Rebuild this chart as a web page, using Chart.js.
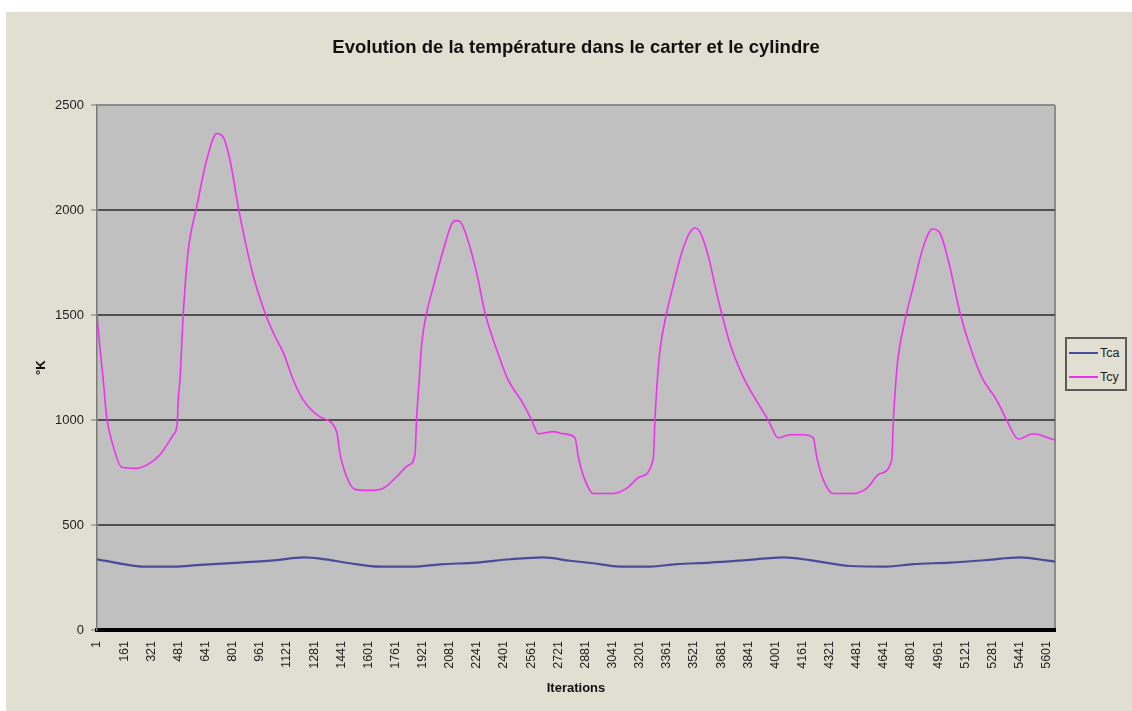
<!DOCTYPE html>
<html lang="fr">
<head>
<meta charset="UTF-8">
<title>Evolution de la température dans le carter et le cylindre</title>
<script src="https://cdn.jsdelivr.net/npm/chart.js"></script>
<style>
    body {
        margin: 0;
        background: #ffffff;
        font-family: "Liberation Sans", Arial, sans-serif;
    }
    #panel {
        position: absolute;
        left: 6px;
        top: 12px;
        width: 1126px;
        height: 699px;
        background: #e1dfd1;
    }
    #chart {
        position: absolute;
        left: 0;
        top: 0;
    }
    #legend {
        position: absolute;
        left: 1065px;
        top: 337px;
        width: 58px;
        padding-top: 2px;
        border: 2px solid #5a5a5a;
        background: #e1dfd1;
    }
    .item {
        height: 24px;
        display: flex;
        align-items: center;
        font-size: 12.5px;
        color: #222;
    }
    .item span.line {
        display: inline-block;
        width: 29px;
        height: 2px;
        margin: 0 2px 0 2px;
    }
</style>
</head>
<body>
<div id="panel"></div>
<canvas id="chart" width="1132" height="711"></canvas>
<div id="legend"></div>

<script>
// iteration / temperature samples (K)
const tcyIter = [1, 20, 38, 58, 97, 147, 235, 313, 372, 451, 474, 480, 490, 510, 539, 589, 648, 707, 744, 785,
    834, 874, 923, 992, 1041, 1100, 1159, 1218, 1316, 1414, 1434, 1473, 1522, 1611, 1689, 1768, 1837, 1876, 1886, 1901,
    1916, 1945, 1984, 2043, 2093, 2118, 2142, 2181, 2240, 2289, 2358, 2426, 2505, 2564, 2603, 2692, 2751, 2820, 2839, 2878,
    2927, 3045, 3124, 3203, 3281, 3291, 3305, 3321, 3360, 3397, 3448, 3498, 3527, 3557, 3606, 3655, 3684, 3733, 3812, 3891,
    3959, 4018, 4087, 4166, 4225, 4245, 4284, 4342, 4460, 4539, 4618, 4687, 4697, 4712, 4725, 4775, 4814, 4873, 4928, 4972,
    5021, 5090, 5149, 5218, 5306, 5365, 5434, 5522, 5630, 5650];
const tcyVals = [1500, 1330, 1190, 1015, 875, 775, 770, 795, 835, 930, 985, 1095, 1190, 1510, 1810, 2015, 2240, 2365, 2350, 2240,
    2015, 1855, 1685, 1510, 1415, 1320, 1190, 1095, 1015, 945, 840, 730, 670, 665, 675, 730, 785, 835, 1015, 1190,
    1365, 1510, 1635, 1810, 1935, 1950, 1945, 1875, 1700, 1510, 1335, 1190, 1090, 1000, 935, 945, 935, 915, 825, 715,
    650, 650, 675, 730, 815, 1000, 1190, 1335, 1510, 1635, 1795, 1895, 1915, 1895, 1780, 1605, 1510, 1365, 1205, 1090,
    1000, 915, 930, 930, 915, 825, 715, 650, 650, 675, 745, 810, 1000, 1190, 1300, 1510, 1635, 1825, 1910, 1890,
    1760, 1510, 1350, 1205, 1095, 1000, 910, 935, 910, 905];

const tcaIter = [1, 156, 274, 451, 608, 844, 1061, 1218, 1336, 1493, 1670, 1866, 2023, 2240, 2436, 2633, 2790,
    2927, 3085, 3262, 3419, 3615, 3832, 4048, 4205, 4441, 4657, 4814, 5030, 5246, 5443, 5620, 5650];
const tcaVals = [337, 314, 302, 302, 310, 321, 333, 346, 338, 318, 302, 302, 313, 321, 337, 346, 330,
    318, 302, 302, 314, 321, 333, 346, 333, 305, 302, 314, 321, 333, 346, 329, 326];

const xTickLabels = [1, 161, 321, 481, 641, 801, 961, 1121, 1281, 1441, 1601, 1761, 1921, 2081, 2241, 2401, 2561, 2721,
    2881, 3041, 3201, 3361, 3521, 3681, 3841, 4001, 4161, 4321, 4481, 4641, 4801, 4961, 5121, 5281, 5441, 5601];

const FONT = '"Liberation Sans", Arial, sans-serif';

// grey plot background and right frame line
const plotFrame = {
    id: 'plotFrame',
    beforeDraw(chart) {
        const { ctx, chartArea: a } = chart;
        ctx.save();
        ctx.fillStyle = '#c0c0c0';
        ctx.fillRect(a.left, a.top, a.width, a.height);
        ctx.strokeStyle = '#8c8c8c';
        ctx.lineWidth = 2;
        ctx.beginPath();
        ctx.moveTo(a.right, a.top);
        ctx.lineTo(a.right, a.bottom);
        ctx.stroke();
        ctx.restore();
    }
};

const chart = new Chart(document.getElementById('chart'), {
    type: 'line',
    data: {
        datasets: [
            {
                label: 'Tca',
                data: tcaIter.map((x, i) => ({ x: x, y: tcaVals[i] })),
                borderColor: '#4b4b9b',
                borderWidth: 2.2,
                pointRadius: 0,
                cubicInterpolationMode: 'monotone'
            },
            {
                label: 'Tcy',
                data: tcyIter.map((x, i) => ({ x: x, y: tcyVals[i] })),
                borderColor: '#f030f0',
                borderWidth: 1.6,
                pointRadius: 0,
                cubicInterpolationMode: 'monotone'
            }
        ]
    },
    options: {
        responsive: false,
        animation: false,
        layout: { padding: { left: 0, right: 77, top: 0, bottom: 0 } },
        plugins: {
            legend: { display: false },
            tooltip: { enabled: false },
            title: {
                display: true,
                text: 'Evolution de la température dans le carter et le cylindre',
                fullSize: false,
                color: '#111',
                font: { family: FONT, size: 18.5, weight: 'bold' },
                padding: { top: 37, bottom: 46 }
            }
        },
        scales: {
            x: {
                type: 'linear',
                min: 1,
                max: 5650,
                afterBuildTicks: s => { s.ticks = xTickLabels.map(v => ({ value: v })); },
                afterFit: s => { s.height = 81; },
                grid: { display: false },
                border: { display: true, color: '#000', width: 4 },
                ticks: {
                    autoSkip: false,
                    minRotation: 90,
                    maxRotation: 90,
                    padding: 3,
                    color: '#222',
                    font: { family: FONT, size: 12.5 },
                    callback: v => String(v)
                },
                title: {
                    display: true,
                    text: 'Iterations',
                    color: '#111',
                    font: { family: FONT, size: 13, weight: 'bold' },
                    padding: { top: 0, bottom: 15 }
                }
            },
            y: {
                min: 0,
                max: 2500,
                afterFit: s => { s.width = 97; },
                ticks: {
                    stepSize: 500,
                    padding: 7,
                    color: '#222',
                    font: { family: FONT, size: 13 },
                    callback: v => String(v)
                },
                grid: {
                    color: c => c.tick.value === 0 ? 'rgba(0,0,0,0)' : (c.tick.value === 2500 ? '#8c8c8c' : '#505050'),
                    lineWidth: 2,
                    tickLength: 6,
                    tickColor: '#707070',
                    tickWidth: 1
                },
                border: { color: '#7a7a7a', width: 1.5 },
                title: {
                    display: true,
                    text: '°K',
                    color: '#111',
                    font: { family: FONT, size: 13, weight: 'bold' },
                    padding: { top: 34, bottom: 0 }
                }
            }
        }
    },
    plugins: [plotFrame]
});

// legend box built from the datasets
const legend = document.getElementById('legend');
chart.data.datasets.forEach(ds => {
    const row = document.createElement('div');
    row.className = 'item';
    const line = document.createElement('span');
    line.className = 'line';
    line.style.background = ds.borderColor;
    row.appendChild(line);
    row.appendChild(document.createTextNode(ds.label));
    legend.appendChild(row);
});
</script>
</body>
</html>
